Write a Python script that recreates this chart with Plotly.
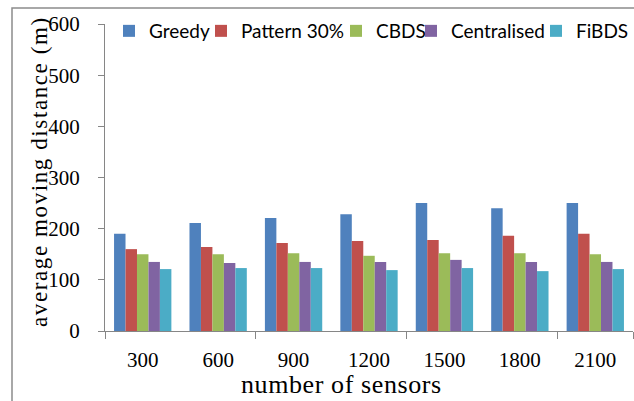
import plotly.graph_objects as go

categories = ["300", "600", "900", "1200", "1500", "1800", "2100"]
series_names = ["Greedy", "Pattern 30%", "CBDS", "Centralised", "FiBDS"]
greedy = [190, 211, 221, 228, 250, 240, 250]
pattern30 = [160, 164, 172, 176, 178, 186, 190]
cbds = [150, 150, 152, 147, 152, 152, 150]
centralised = [135, 133, 135, 135, 139, 135, 135]
fibds = [121, 123, 123, 119, 123, 117, 121]
colors = ["#4F81BD", "#C0504D", "#9BBB59", "#8064A2", "#4BACC6"]
y_ticks = [0, 100, 200, 300, 400, 500, 600]

W, H = 634, 401
L, R, T, B = 105, 1, 24, 70
pw, ph = W - L - R, H - T - B

def px(x):
    return (x - L) / pw

def py(y):
    return (H - B - y) / ph

positions = list(range(len(categories)))
legend_left = [129, 221, 356, 431, 556]
legend_keys = ["legend", "legend2", "legend3", "legend4", "legend5"]

fig = go.Figure()
for name, vals, col, lk in zip(series_names, [greedy, pattern30, cbds, centralised, fibds], colors, legend_keys):
    fig.add_trace(go.Bar(name=name, x=positions, y=vals, legend=lk,
                         marker=dict(color=col, line=dict(width=0))))

serif = "Liberation Serif"
legends = {}
for lk, xl in zip(legend_keys, legend_left):
    legends[lk] = dict(orientation="h", x=px(xl - 20), y=py(12), xanchor="left", yanchor="top",
                       font=dict(family="Lato", size=19, color="#000"),
                       bgcolor="rgba(0,0,0,0)", itemwidth=30, borderwidth=0)

fig.update_layout(
    width=W, height=H,
    margin=dict(l=L, r=R, t=T, b=B, autoexpand=False),
    paper_bgcolor="white", plot_bgcolor="white",
    barmode="group", bargap=0.24, bargroupgap=0,
    showlegend=True,
    xaxis=dict(range=[-0.5, 6.5], tickvals=positions, ticktext=categories,
               ticks="", showgrid=False, zeroline=False,
               showline=True, linecolor="#868686", linewidth=1,
               tickfont=dict(family=serif, size=21, color="#000"),
               ticklabelstandoff=10,
               minor=dict(tickvals=[-0.5, 1.5, 3.5, 5.5, 6.5], ticks="outside",
                          ticklen=7, tickcolor="#868686", showgrid=False)),
    yaxis=dict(range=[0, 600], tickvals=y_ticks, ticks="outside", ticklen=6,
               tickcolor="#868686", showgrid=False, zeroline=False,
               showline=True, linecolor="#868686", linewidth=1,
               tickfont=dict(family=serif, size=21, color="#000"),
               ticklabelstandoff=14),
    shapes=[dict(type="rect", xref="paper", yref="paper",
                 x0=px(12), x1=px(645), y0=py(415), y1=py(8),
                 line=dict(color="#8c8c8c", width=1.5), fillcolor="rgba(0,0,0,0)", layer="below")],
    annotations=[
        dict(text="<span style='letter-spacing:1.6px'>average moving distance (m)</span>",
             xref="paper", yref="paper",
             x=px(39), y=py(172), textangle=-90, showarrow=False,
             font=dict(family=serif, size=23, color="#000"), xanchor="center", yanchor="middle"),
        dict(text="<span style='letter-spacing:0.6px'>number of sensors</span>",
             xref="paper", yref="paper",
             x=px(341), y=py(384), showarrow=False,
             font=dict(family=serif, size=26, color="#000"), xanchor="center", yanchor="middle"),
    ],
    **legends,
)

fig.write_html("out.html", config={"displayModeBar": False},
               post_script="document.body.style.margin='0px';document.body.style.padding='0px';")
